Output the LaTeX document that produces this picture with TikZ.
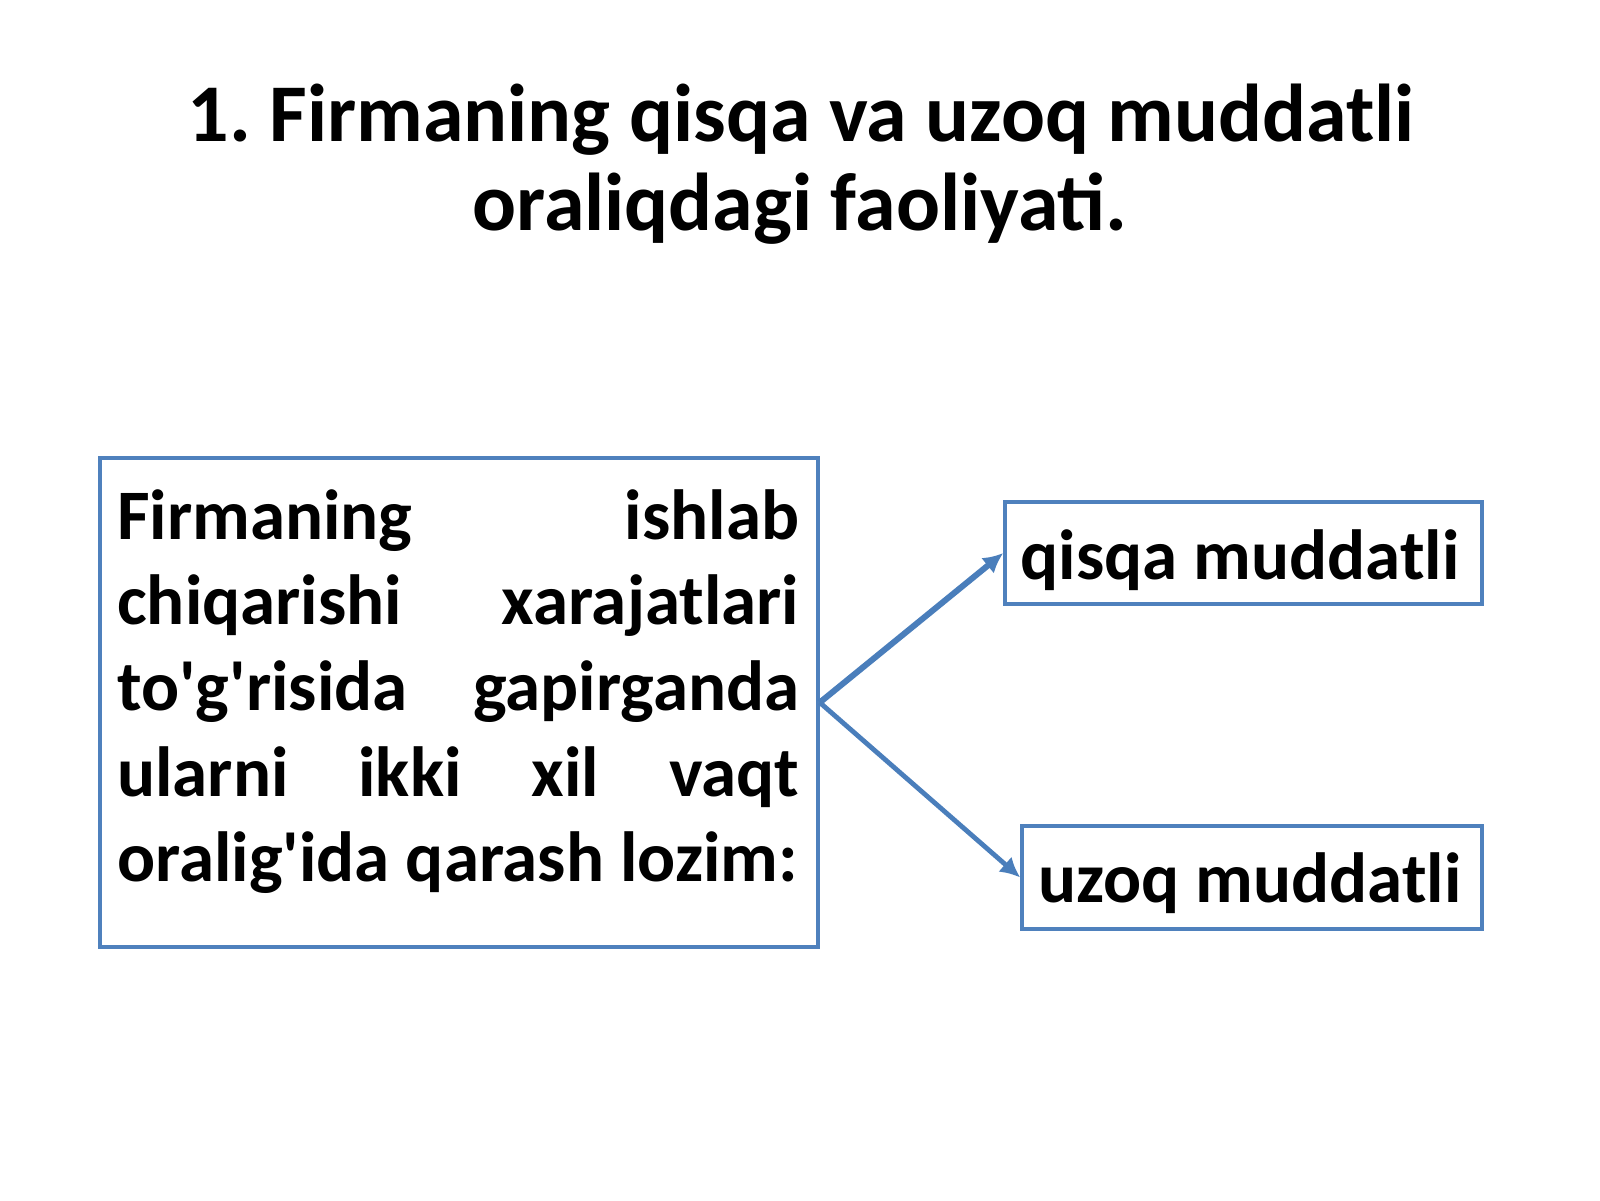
\documentclass[tikz,border=0pt]{standalone}
\usepackage{fontspec}
\setmainfont{Carlito}
\usetikzlibrary{arrows.meta}
\definecolor{boxblue}{HTML}{4F81BD}
\definecolor{arrowblue}{HTML}{4A7EBB}
\frenchspacing
\hyphenpenalty=10000
\exhyphenpenalty=10000
\begin{document}
\begin{tikzpicture}[x=1pt,y=-1pt,
  frame/.style={draw=boxblue,line width=3.5pt,inner sep=0pt},
  titletext/.style={font=\bfseries\fontsize{82}{89}\selectfont,inner sep=0pt},
  bodytext/.style={font=\bfseries\fontsize{71}{85.7}\selectfont,inner sep=0pt},
  conn/.style={draw=arrowblue,line width=6pt,-{Latex[length=20pt,width=20pt]}}]
\useasboundingbox[fill=white] (0,0) rectangle (1600,1200);
\node[titletext,anchor=base] (t1) at (801,141) {1. Firmaning qisqa va uzoq muddatli};
\node[titletext,anchor=base] (t2) at (800,230) {oraliqdagi faoliyati.};
\node[frame,minimum width=718pt,minimum height=489pt] (big) at (459,702.5) {};
\node[bodytext,anchor=base west,text width=682pt,align=justify] (bt) at (117,539)
  {Firmaning ishlab\linebreak chiqarishi xarajatlari\linebreak to\textquotesingle g\textquotesingle risida gapirganda\linebreak ularni ikki xil vaqt\linebreak oralig\textquotesingle ida qarash lozim:};
\node[frame,minimum width=477pt,minimum height=102pt] (short) at (1243.5,553) {};
\node[bodytext,anchor=base] (st) at (1240,579) {qisqa muddatli};
\node[frame,minimum width=460pt,minimum height=103pt] (long) at (1252,877.5) {};
\node[bodytext,anchor=base] (lt) at (1250,902) {uzoq muddatli};
\draw[conn] (big.east) -- (short.west);
\draw[conn,line width=4.8pt] (big.east) -- (long.west);
\end{tikzpicture}
\end{document}
